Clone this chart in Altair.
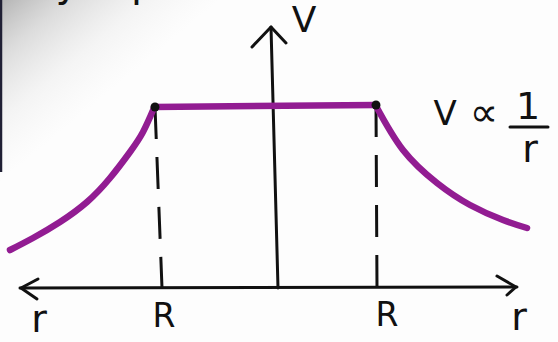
import altair as alt
import pandas as pd

# Sketch units: horizontal position r, vertical height V (both in drawing units)
left_r = [10, 33, 60, 87, 110, 130, 143, 154]
left_v = [92, 104, 120, 140, 164, 190, 210, 234]
flat_r = [154, 376]
flat_v = [235, 237]
right_r = [376, 403, 437, 470, 503, 527]
right_v = [236, 192, 159, 137, 122, 114]

# Edge points at r = R on both sides
edge_r = [155, 376]
edge_v = [235, 237]
edge_foot_r = [162, 377]
axis_v = 54

# Axes (hand-drawn, with open arrowheads)
axis_x = [20, 517]
axis_y = [54, 55]
vert_x = [278, 271]
vert_y = [54, 315]
head_left_r, head_left_v = [38, 21, 37], [63, 54, 43]
head_right_r, head_right_v = [497, 516, 507], [66, 55, 47]
head_top_r, head_top_v = [252, 271, 286], [295, 315, 299]

W, H = 558, 342
X = alt.X("r:Q", scale=alt.Scale(domain=[0, W]), axis=None)
Y = alt.Y("v:Q", scale=alt.Scale(domain=[0, H]), axis=None)


def seg(rs, vs, name):
    return pd.DataFrame({"r": rs, "v": vs, "seg": name, "order": range(len(rs))})


# grey shading in the upper-left corner of the page, fading out diagonally
shade = alt.Chart(pd.DataFrame({"r": [0], "r2": [230], "v": [H], "v2": [H - 190]})).mark_rect(
    color=alt.Gradient(
        gradient="linear",
        x1=0, y1=0, x2=1, y2=1,
        stops=[
            alt.GradientStop(color="rgba(120,120,120,0.55)", offset=0),
            alt.GradientStop(color="rgba(150,150,150,0.32)", offset=0.15),
            alt.GradientStop(color="rgba(180,180,180,0.12)", offset=0.32),
            alt.GradientStop(color="rgba(200,200,200,0)", offset=0.48),
            alt.GradientStop(color="rgba(200,200,200,0)", offset=1),
        ],
    )
).encode(x=X, x2="r2:Q", y=Y, y2="v2:Q")

page_edge = alt.Chart(pd.DataFrame({"r": [1], "v": [H], "v2": [170]})).mark_rule(
    color="#202035", strokeWidth=2.5
).encode(x=X, y=Y, y2="v2:Q")

heading = alt.Chart(pd.DataFrame({"r": [28], "v": [H + 4], "t": ["By eqn"]})).mark_text(
    font="DejaVu Sans", fontSize=40, align="left", baseline="alphabetic", color="#111"
).encode(x=X, y=Y, text="t:N")

axes_df = pd.concat([
    seg(axis_x, axis_y, "h"),
    seg(vert_x, vert_y, "vert"),
    seg(head_left_r, head_left_v, "hl"),
    seg(head_right_r, head_right_v, "hr"),
    seg(head_top_r, head_top_v, "ht"),
])
axes = alt.Chart(axes_df).mark_line(
    color="#111111", strokeWidth=3, strokeCap="round", strokeJoin="round"
).encode(x=X, y=Y, detail="seg:N", order="order:Q")

dash_df = pd.DataFrame({"r": edge_r, "r2": edge_foot_r, "v": edge_v, "v2": [axis_v, axis_v]})
dashes = alt.Chart(dash_df).mark_rule(
    color="#111111", strokeWidth=3, strokeDash=[32, 18]
).encode(x=X, x2="r2:Q", y=Y, y2="v2:Q")

curves_df = pd.concat([seg(left_r, left_v, "left"), seg(right_r, right_v, "right")])
curves = alt.Chart(curves_df).mark_line(
    color="#921c92", strokeWidth=6.5, strokeCap="round", interpolate="natural"
).encode(x=X, y=Y, detail="seg:N", order="order:Q")

flat = alt.Chart(seg(flat_r, flat_v, "flat")).mark_line(
    color="#921c92", strokeWidth=6.5, strokeCap="round"
).encode(x=X, y=Y, order="order:Q")

dots = alt.Chart(pd.DataFrame({"r": edge_r, "v": edge_v})).mark_circle(
    color="#111111", size=80, opacity=1
).encode(x=X, y=Y)

labels_df = pd.DataFrame({
    "r": [304, 164, 387, 39, 519, 445, 484, 528, 530],
    "v": [321, 25, 26, 21, 23, 227, 228, 234, 191],
    "t": ["V", "R", "R", "r", "r", "V", "∝", "1", "r"],
    "s": [36, 33, 33, 38, 38, 34, 40, 38, 38],
})
labels = alt.Chart(labels_df).mark_text(
    font="DejaVu Sans", color="#111111", baseline="middle", align="center"
).encode(x=X, y=Y, text="t:N", size=alt.Size("s:Q", scale=None, legend=None))

bar = alt.Chart(pd.DataFrame({"r": [510], "r2": [548], "v": [215]})).mark_rule(
    color="#111111", strokeWidth=3, strokeCap="round"
).encode(x=X, x2="r2:Q", y=Y)

chart = alt.layer(
    shade, page_edge, heading, axes, dashes, curves, flat, dots, labels, bar
).properties(
    width=W, height=H, autosize=alt.AutoSizeParams(type="none"), padding=0,
    background="#fdfdfd"
).configure_view(stroke=None)

chart.save("out.html", embed_options={"renderer": "svg", "actions": False})
